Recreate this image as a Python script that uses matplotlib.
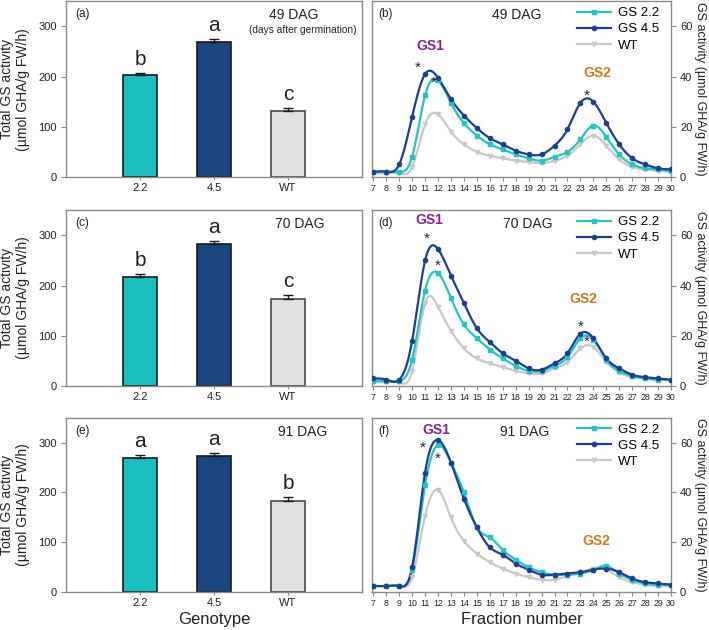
import numpy as np
import matplotlib
matplotlib.use('Agg')
import matplotlib.pyplot as plt
from matplotlib.lines import Line2D

plt.rcParams['font.family'] = ['Liberation Sans', 'DejaVu Sans']

# ---------------- data ----------------
genotypes = ['2.2', '4.5', 'WT']
bar_49 = [204, 268, 132]
err_49 = [4, 6, 5]
let_49 = ['b', 'a', 'c']
bar_70 = [218, 283, 174]
err_70 = [5, 6, 8]
let_70 = ['b', 'a', 'c']
bar_91 = [270, 273, 182]
err_91 = [5, 6, 9]
let_91 = ['a', 'a', 'b']

fractions = list(range(7, 31))
gs22_49 = [2, 2, 2, 8, 32.5, 38.5, 29.5, 21.5, 16.5, 13, 11, 9, 7.5, 6.5, 8, 10, 15, 20.5, 16, 9, 5, 3.5, 3, 2.5]
gs45_49 = [2, 2.2, 5, 24, 41, 39.5, 31, 24.5, 19.5, 15.5, 13, 10.5, 9, 9, 12.5, 19, 29.5, 30, 21.5, 13, 7.5, 5, 3.5, 3]
wt_49 = [1.5, 1.5, 1.5, 4, 21, 25, 18, 13, 10, 8.5, 7.5, 6.5, 6, 5.5, 6.5, 8.5, 13, 16.5, 12.5, 7, 4, 3, 2.5, 2]

gs22_70 = [2, 2, 2, 10.5, 38, 45, 35, 24.5, 19, 14.5, 11, 8, 6, 6, 8, 11.5, 19, 18.5, 10.5, 6, 4, 3, 2.5, 2.5]
gs45_70 = [3, 2.5, 2.5, 18, 50, 54.5, 44, 33, 23, 17.5, 13, 10, 7, 6.5, 9, 13, 20.8, 19, 11, 7, 4.5, 3.5, 3, 2.5]
wt_70 = [1.5, 1.5, 1.5, 6, 33, 31.5, 22, 15, 11, 9, 7.5, 6, 5, 5, 7, 9.5, 15, 15.5, 9.5, 5.5, 3.5, 3, 2.5, 2.5]

gs22_91 = [2.5, 2.5, 2.5, 9, 43, 59, 52, 40, 26, 22, 17, 13, 10, 8, 7, 7, 7.5, 9, 10.5, 7.5, 5, 3.5, 3, 3]
gs45_91 = [2.5, 2.5, 2.5, 10, 48, 61, 52, 37.5, 26, 18, 15, 11.5, 9, 7, 7, 7.5, 8, 9, 9.5, 8, 5.5, 4, 3.5, 3]
wt_91 = [2.5, 2.5, 2.5, 6, 30.5, 41, 30, 20.5, 15.5, 12, 9.5, 7.5, 6, 5, 5, 6.5, 8, 9.5, 9, 6, 4, 3, 2.5, 2.5]

C_CYAN_BAR = '#1bbfbf'
C_NAVY_BAR = '#1a457e'
C_GRAY_BAR = '#e0e0de'
C_CYAN = '#27c3c3'
C_NAVY = '#1e3f8c'
C_WT = '#c8c8c8'
SPINE = '#8a8a8a'
TXT = '#222222'


def natural_spline(x, y, n=500):
    x = np.asarray(x, float)
    y = np.asarray(y, float)
    m = len(x)
    h = np.diff(x)
    A = np.zeros((m, m))
    r = np.zeros(m)
    A[0, 0] = 1
    A[-1, -1] = 1
    for i in range(1, m - 1):
        A[i, i - 1] = h[i - 1]
        A[i, i] = 2 * (h[i - 1] + h[i])
        A[i, i + 1] = h[i]
        r[i] = 3 * ((y[i + 1] - y[i]) / h[i] - (y[i] - y[i - 1]) / h[i - 1])
    c = np.linalg.solve(A, r)
    b = (y[1:] - y[:-1]) / h - h * (2 * c[:-1] + c[1:]) / 3
    d = (c[1:] - c[:-1]) / (3 * h)
    xs = np.linspace(x[0], x[-1], n)
    idx = np.clip(np.searchsorted(x, xs) - 1, 0, m - 2)
    dx = xs - x[idx]
    ys = y[idx] + b[idx] * dx + c[idx] * dx ** 2 + d[idx] * dx ** 3
    return xs, ys


fig = plt.figure(figsize=(7.09, 6.30), dpi=100)

rows = [(0.719, 0.279), (0.3873, 0.279), (0.0600, 0.2770)]
lx, lw_ = 0.0931, 0.4175
rx, rw = 0.5247, 0.4217


def style_spines(ax):
    for s in ax.spines.values():
        s.set_color(SPINE)
        s.set_linewidth(1.0)


bar_sets = [(bar_49, err_49, let_49, '(a)', '49 DAG', 0.77),
            (bar_70, err_70, let_70, '(c)', '70 DAG', 0.79),
            (bar_91, err_91, let_91, '(e)', '91 DAG', 0.80)]

for k, (vals, errs, lets, plab, dag, dx) in enumerate(bar_sets):
    ax = fig.add_axes([lx, rows[k][0], lw_, rows[k][1]])
    pos = np.arange(1, 4)
    ax.bar(pos, vals, width=0.45, color=[C_CYAN_BAR, C_NAVY_BAR, C_GRAY_BAR],
           edgecolor=['#1a1a1a', '#1a1a1a', '#4a4a4a'], linewidth=1.2, zorder=2)
    ax.errorbar(pos, vals, yerr=[[0, 0, 0], errs], fmt='none', ecolor='#1a1a1a',
                elinewidth=1.0, capsize=3.5, capthick=1.0, zorder=3)
    for p, v, e, L in zip(pos, vals, errs, lets):
        ax.text(p, v + e + 8, L, ha='center', va='bottom', fontsize=15, color=TXT)
    ax.set_xlim(0, 4)
    ax.set_ylim(0, 350)
    ax.set_yticks([0, 100, 200, 300])
    ax.set_xticks(pos)
    ax.set_xticklabels(genotypes)
    ax.tick_params(axis='y', direction='out', length=3.5, width=0.8, color=SPINE,
                   labelsize=8, labelcolor=TXT, pad=3)
    ax.tick_params(axis='x', direction='out', length=2.5, width=0.8, color=SPINE,
                   labelsize=8, labelcolor=TXT, pad=2)
    style_spines(ax)
    ax.text(0.03, 0.96, plab, transform=ax.transAxes, ha='left', va='top', fontsize=8.5, color=TXT)
    ax.text(dx, 0.96, dag, transform=ax.transAxes, ha='center', va='top', fontsize=10, color=TXT)
    if k == 0:
        ax.text(0.80, 0.865, '(days after germination)', transform=ax.transAxes,
                ha='center', va='top', fontsize=7.3, color=TXT)
    ax.set_ylabel('Total GS activity\n(µmol GHA/g FW/h)', fontsize=10, color=TXT, labelpad=6)
    if k == 2:
        ax.set_xlabel('Genotype', fontsize=12, color=TXT, labelpad=2.5)

line_sets = [
    (gs22_49, gs45_49, wt_49, '(b)', '49 DAG', 0.485,
     [(11.4, 52)], [(24.3, 41.5)], [(10.45, 43.5), (11.7, 37.5), (23.5, 32.5)]),
    (gs22_70, gs45_70, wt_70, '(d)', '70 DAG', 0.52,
     [(11.3, 66)], [(23.2, 34.7)], [(11.1, 58.5), (11.95, 48), (23.0, 23.5), (23.45, 17.5)]),
    (gs22_91, gs45_91, wt_91, '(f)', '91 DAG', 0.51,
     [(11.9, 65)], [(24.2, 20.5)], [(10.8, 58), (11.95, 53.5)]),
]

for k, (g22, g45, wt, plab, dag, dx, gs1, gs2, stars) in enumerate(line_sets):
    ax = fig.add_axes([rx, rows[k][0], rw, rows[k][1]])
    for y, col, mk, ms in [(wt, C_WT, 'v', 3.0), (g22, C_CYAN, 's', 2.6), (g45, C_NAVY, 'o', 3.0)]:
        xs, ys = natural_spline(fractions, y)
        ax.plot(xs, ys, color=col, lw=1.6, zorder=2, solid_capstyle='round')
        ax.plot(fractions, y, ls='none', marker=mk, ms=ms, color=col, zorder=3)
    ax.set_xlim(6.9, 30)
    ax.set_ylim(0, 70)
    ax.set_xticks(fractions)
    ax.set_yticks([0, 20, 40, 60])
    ax.yaxis.tick_right()
    ax.yaxis.set_label_position('right')
    ax.tick_params(axis='x', direction='out', length=3, width=0.8, color=SPINE,
                   labelsize=6.3, labelcolor=TXT, pad=2)
    ax.tick_params(axis='y', direction='out', length=3.5, width=0.8, color=SPINE,
                   labelsize=8, labelcolor=TXT, pad=3)
    style_spines(ax)
    ax.set_ylabel('GS activity (µmol GHA/g FW/h)', fontsize=9, color=TXT,
                  rotation=270, labelpad=10)
    ax.text(0.02, 0.96, plab, transform=ax.transAxes, ha='left', va='top', fontsize=8.5, color=TXT)
    ax.text(dx, 0.96, dag, transform=ax.transAxes, ha='center', va='top', fontsize=10, color=TXT)
    for (x0, y0) in gs1:
        ax.text(x0, y0, 'GS1', ha='center', va='center', fontsize=10, fontweight='bold', color='#8e1f8e')
    for (x0, y0) in gs2:
        ax.text(x0, y0, 'GS2', ha='center', va='center', fontsize=10, fontweight='bold', color='#cc7a22')
    for (x0, y0) in stars:
        ax.text(x0, y0, '*', ha='center', va='center', fontsize=11, color=TXT)
    handles = [Line2D([], [], color=C_CYAN, lw=1.6, marker='s', ms=2.6),
               Line2D([], [], color=C_NAVY, lw=1.6, marker='o', ms=3.0),
               Line2D([], [], color=C_WT, lw=1.6, marker='v', ms=3.0)]
    ax.legend(handles, ['GS 2.2', 'GS 4.5', 'WT'], loc='upper right', bbox_to_anchor=(0.99, 1.02),
              frameon=False, fontsize=9.5, handlelength=2.6, handletextpad=0.5,
              labelspacing=0.3, borderaxespad=0.3)
    if k == 2:
        ax.set_xlabel('Fraction number', fontsize=12, color=TXT, labelpad=3)

fig.savefig('out.png', dpi=100)
